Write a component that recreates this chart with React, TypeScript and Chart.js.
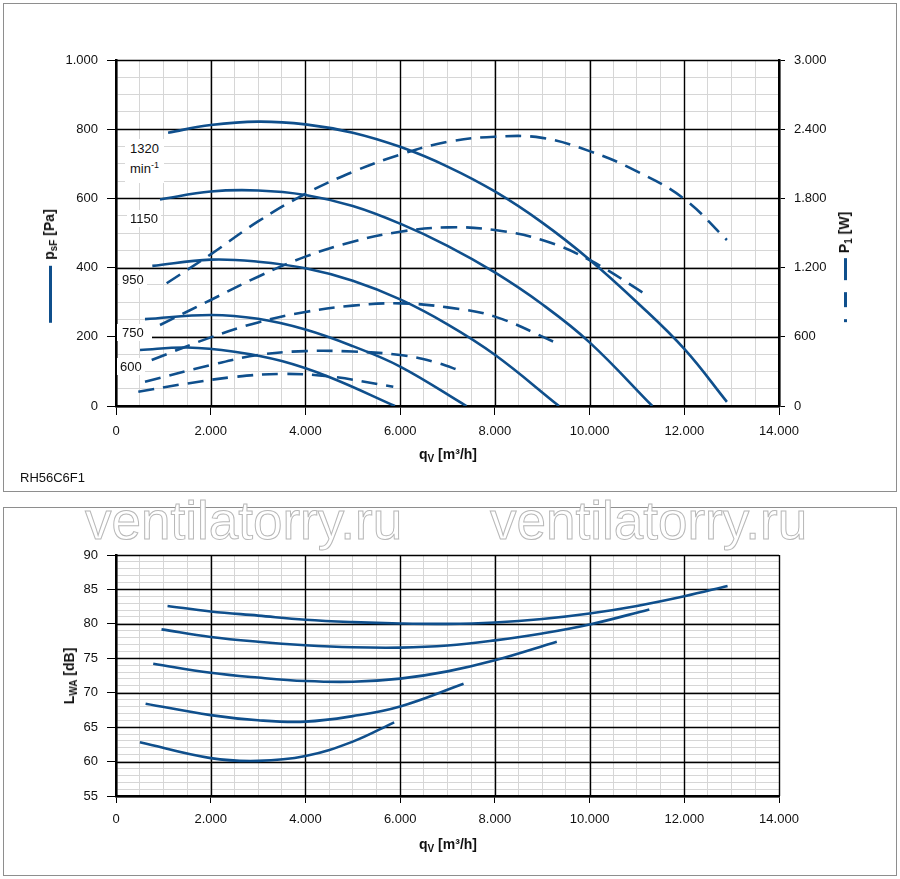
import { useEffect, useRef } from "react"
import Chart from "chart.js/auto"

// q_V [m³/h] / p_sF [Pa] per speed
const flow1320 = [1100, 2000, 3000, 4000, 5000, 6000, 7000, 8000, 9000, 10000, 11000, 12000, 12900]
const psf1320 = [790, 812, 822, 814, 790, 749, 692, 620, 530, 423, 300, 165, 12]
const flow1150 = [929, 2000, 3000, 4000, 5000, 6000, 7000, 8000, 9000, 10000, 11325]
const psf1150 = [597, 620, 623, 610, 578, 527, 463, 386, 294, 184, 0]
const flow950 = [767, 2000, 3000, 4000, 5000, 6000, 7000, 8000, 9354]
const psf950 = [405, 423, 417, 398, 362, 308, 236, 148, 0]
const flow750 = [612, 2000, 3000, 4000, 5000, 6000, 7400]
const psf750 = [251, 263, 252, 221, 173, 114, 0]
const flow600 = [507, 1500, 2500, 3500, 4500, 5890]
const psf600 = [162, 169, 157, 130, 84, 0]

// q_V [m³/h] / P1 [W]
const powerFlow1320 = [1070, 2000, 3000, 4000, 5000, 6000, 7000, 8000, 9000, 10000, 11000, 12000, 12900]
const power1320 = [1064, 1315, 1600, 1840, 2030, 2180, 2290, 2335, 2325, 2210, 2035, 1795, 1439]
const powerFlow1150 = [929, 2000, 3000, 4000, 5000, 6000, 7000, 8000, 9000, 10000, 11240]
const power1150 = [702, 919, 1121, 1295, 1425, 1511, 1549, 1526, 1439, 1266, 954]
const powerFlow950 = [754, 2000, 3000, 4000, 5000, 6000, 7000, 8000, 9290]
const power950 = [399, 595, 725, 815, 870, 890, 855, 775, 549]
const powerFlow750 = [612, 2000, 3000, 4000, 5000, 6000, 6700, 7334]
const power750 = [211, 355, 442, 476, 472, 442, 384, 297]
const powerFlow600 = [471, 1500, 2500, 3500, 4500, 5855]
const power600 = [124, 195, 252, 278, 257, 167]

// q_V [m³/h] / L_WA [dB]
const noiseFlow1320 = [1088, 2000, 3000, 4000, 5000, 6000, 7000, 8000, 9000, 10000, 11000, 12000, 12914]
const lwa1320 = [82.6, 81.8, 81.2, 80.6, 80.25, 80.05, 80.0, 80.2, 80.7, 81.5, 82.6, 84.0, 85.5]
const noiseFlow1150 = [961, 2000, 3000, 4000, 5000, 6000, 7000, 8000, 9000, 10000, 11262]
const lwa1150 = [79.2, 78.1, 77.4, 76.9, 76.6, 76.55, 76.85, 77.6, 78.6, 79.9, 82.1]
const noiseFlow950 = [786, 2000, 3000, 4000, 5000, 6000, 7000, 8000, 9308]
const lwa950 = [74.2, 72.9, 72.2, 71.7, 71.6, 72.05, 73.1, 74.7, 77.4]
const noiseFlow750 = [625, 2000, 3000, 4000, 5000, 6000, 7339]
const lwa750 = [68.4, 66.75, 66.0, 65.8, 66.6, 68.0, 71.3]
const noiseFlow600 = [505, 2000, 3000, 4000, 5000, 5874]
const lwa600 = [62.8, 60.5, 60.1, 60.8, 62.9, 65.7]

const speedLabels = ["1320", "1150", "950", "750", "600"]

const BLUE = "#0f4f8c"
const FONT = "'Liberation Sans', Arial, sans-serif"

const fmt = (v: number) => String(v).replace(/\B(?=(\d{3})+(?!\d))/g, ".")
const pts = (xs: number[], ys: number[]) => xs.map((x, i) => ({ x, y: ys[i] }))
const isMult = (v: number, m: number) => Math.abs(v % m) < 1e-6

const curve = (xs: number[], ys: number[], axis: string, dashed = false) => ({
  data: pts(xs, ys),
  yAxisID: axis,
  borderColor: BLUE,
  borderWidth: 2.6,
  borderDash: dashed ? [16, 9] : [],
  pointRadius: 0,
  fill: false,
  tension: 0.4,
})

const tickFont = { family: FONT, size: 13 }

function gridAxis(min: number, max: number, step: number, major: number, tickLen: number) {
  return {
    type: "linear" as const,
    min,
    max,
    ticks: {
      stepSize: step,
      autoSkip: false,
      maxRotation: 0,
      color: "#111",
      font: tickFont,
      padding: 9,
      callback: (v: any) => (isMult(v, major) ? fmt(v) : ""),
    },
    grid: {
      color: "#d6d6d6",
      lineWidth: 1,
      tickColor: (c: any) => (isMult(c.tick.value, major) ? "#000" : "rgba(0,0,0,0)"),
      tickLength: tickLen,
    },
    border: { color: "#000", width: 2.5 },
  }
}

// black major grid lines drawn over the light minor grid
const majorGrid = {
  id: "majorGrid",
  beforeDatasetsDraw(chart: any, _args: any, opts: any) {
    const { ctx, chartArea: a, scales } = chart
    ctx.save()
    ctx.strokeStyle = "#000"
    ctx.lineWidth = 1.4
    ctx.beginPath()
    for (const t of scales.x.ticks) {
      if (!isMult(t.value, opts.x)) continue
      const px = Math.round(scales.x.getPixelForValue(t.value)) + 0.5
      ctx.moveTo(px, a.top)
      ctx.lineTo(px, a.bottom)
    }
    for (const t of scales.y.ticks) {
      if (!isMult(t.value, opts.y)) continue
      const py = Math.round(scales.y.getPixelForValue(t.value)) + 0.5
      ctx.moveTo(a.left, py)
      ctx.lineTo(a.right, py)
    }
    ctx.stroke()
    ctx.restore()
  },
}

function ChartCanvas({ config, style }: { config: any; style: any }) {
  const ref = useRef<HTMLCanvasElement>(null)
  useEffect(() => {
    if (!ref.current) return
    const chart = new Chart(ref.current, { ...config, plugins: [majorGrid] })
    return () => chart.destroy()
  }, [config])
  return (
    <div style={{ position: "absolute", ...style }}>
      <canvas ref={ref} />
    </div>
  )
}

const commonOptions = {
  responsive: true,
  maintainAspectRatio: false,
  animation: false,
}

const pressureConfig = {
  type: "line",
  data: {
    datasets: [
      curve(flow1320, psf1320, "y"),
      curve(flow1150, psf1150, "y"),
      curve(flow950, psf950, "y"),
      curve(flow750, psf750, "y"),
      curve(flow600, psf600, "y"),
      curve(powerFlow1320, power1320, "y1", true),
      curve(powerFlow1150, power1150, "y1", true),
      curve(powerFlow950, power950, "y1", true),
      curve(powerFlow750, power750, "y1", true),
      curve(powerFlow600, power600, "y1", true),
    ],
  },
  options: {
    ...commonOptions,
    plugins: { legend: { display: false }, tooltip: { enabled: false }, majorGrid: { x: 2000, y: 200 } },
    layout: { padding: { top: 60, left: 0, right: 0, bottom: 0 } },
    scales: {
      x: { ...gridAxis(0, 14000, 500, 2000, 9), afterFit: (s: any) => { s.height = 89 } },
      y: { ...gridAxis(0, 1000, 50, 200, 9), afterFit: (s: any) => { s.width = 116 } },
      y1: {
        ...gridAxis(0, 3000, 150, 600, 6),
        position: "right",
        grid: {
          drawOnChartArea: false,
          tickLength: 6,
          tickColor: (c: any) => (isMult(c.tick.value, 600) ? "#000" : "rgba(0,0,0,0)"),
        },
        afterFit: (s: any) => { s.width = 121 },
      },
    },
  },
}

const noiseConfig = {
  type: "line",
  data: {
    datasets: [
      curve(noiseFlow1320, lwa1320, "y"),
      curve(noiseFlow1150, lwa1150, "y"),
      curve(noiseFlow950, lwa950, "y"),
      curve(noiseFlow750, lwa750, "y"),
      curve(noiseFlow600, lwa600, "y"),
    ],
  },
  options: {
    ...commonOptions,
    plugins: { legend: { display: false }, tooltip: { enabled: false }, majorGrid: { x: 2000, y: 5 } },
    layout: { padding: { top: 58, left: 0, right: 121, bottom: 0 } },
    scales: {
      x: { ...gridAxis(0, 14000, 500, 2000, 7), afterFit: (s: any) => { s.height = 83 } },
      y: { ...gridAxis(55, 90, 1, 5, 9), afterFit: (s: any) => { s.width = 116 } },
    },
  },
}

const txt = { fontFamily: FONT, fontSize: 13, color: "#111", position: "absolute" as const, whiteSpace: "nowrap" as const }
const title = { ...txt, fontSize: 14, fontWeight: "bold" as const }
const rotated = (x: number, y: number) => ({
  ...title,
  left: x,
  top: y,
  transform: "translate(-50%, -50%) rotate(-90deg)",
  display: "flex",
  alignItems: "center",
})
const sub = { fontSize: 10, verticalAlign: "-3px" }
const seg = (w: number, gap: number) => (
  <span style={{ display: "inline-block", width: w, height: 3, background: BLUE, marginRight: gap }} />
)
const label = (x: number, y: number) => ({ ...txt, left: x, top: y, background: "#fff", lineHeight: "15px", padding: "1px 3px" })
const watermark = (x: number) => ({
  position: "absolute" as const,
  left: x,
  top: 494,
  fontFamily: FONT,
  fontSize: 53,
  lineHeight: 1,
  color: "#fff",
  WebkitTextStroke: "1px #b8b8b8",
  whiteSpace: "nowrap" as const,
})

export default function App() {
  return (
    <div style={{ position: "fixed", left: 0, top: 0, width: 900, height: 879, background: "#fff", overflow: "hidden" }}>
      <div style={{ position: "absolute", left: 3, top: 3, width: 892, height: 487, border: "1px solid #8e8e8e" }} />
      <div style={{ position: "absolute", left: 3, top: 507, width: 892, height: 367, border: "1px solid #8e8e8e" }} />

      <ChartCanvas config={pressureConfig} style={{ left: 0, top: 0, width: 900, height: 495 }} />
      <ChartCanvas config={noiseConfig} style={{ left: 0, top: 497, width: 900, height: 382 }} />

      <div style={{ ...label(125, 139), lineHeight: "16px", padding: "2px 5px 6px 5px" }}>
        {speedLabels[0]}
        <br />
        min<sup style={{ fontSize: 9 }}>-1</sup>
      </div>
      <div style={label(127, 210)}>{speedLabels[1]}</div>
      <div style={label(119, 271)}>{speedLabels[2]}</div>
      <div style={{ ...label(117, 324), padding: "1px 8px 1px 5px" }}>{speedLabels[3]}</div>
      <div style={label(117, 358)}>{speedLabels[4]}</div>

      <div style={rotated(50, 266)}>
        {seg(57, 6)}
        <span>
          p<span style={sub}>sF</span> [Pa]
        </span>
      </div>
      <div style={rotated(845, 267)}>
        {seg(3, 12)}
        {seg(15, 12)}
        {seg(22, 5)}
        <span>
          P<span style={sub}>1</span> [W]
        </span>
      </div>
      <div style={{ ...title, left: 448, top: 455, transform: "translate(-50%, -50%)" }}>
        q<span style={sub}>V</span> [m³/h]
      </div>
      <div style={{ ...txt, left: 20, top: 470 }}>RH56C6F1</div>

      <div style={rotated(70, 676)}>
        <span>
          L<span style={sub}>WA</span> [dB]
        </span>
      </div>
      <div style={{ ...title, left: 448, top: 845, transform: "translate(-50%, -50%)" }}>
        q<span style={sub}>V</span> [m³/h]
      </div>

      <div style={watermark(85)}>ventilatorry.ru</div>
      <div style={watermark(490)}>ventilatorry.ru</div>
    </div>
  )
}
